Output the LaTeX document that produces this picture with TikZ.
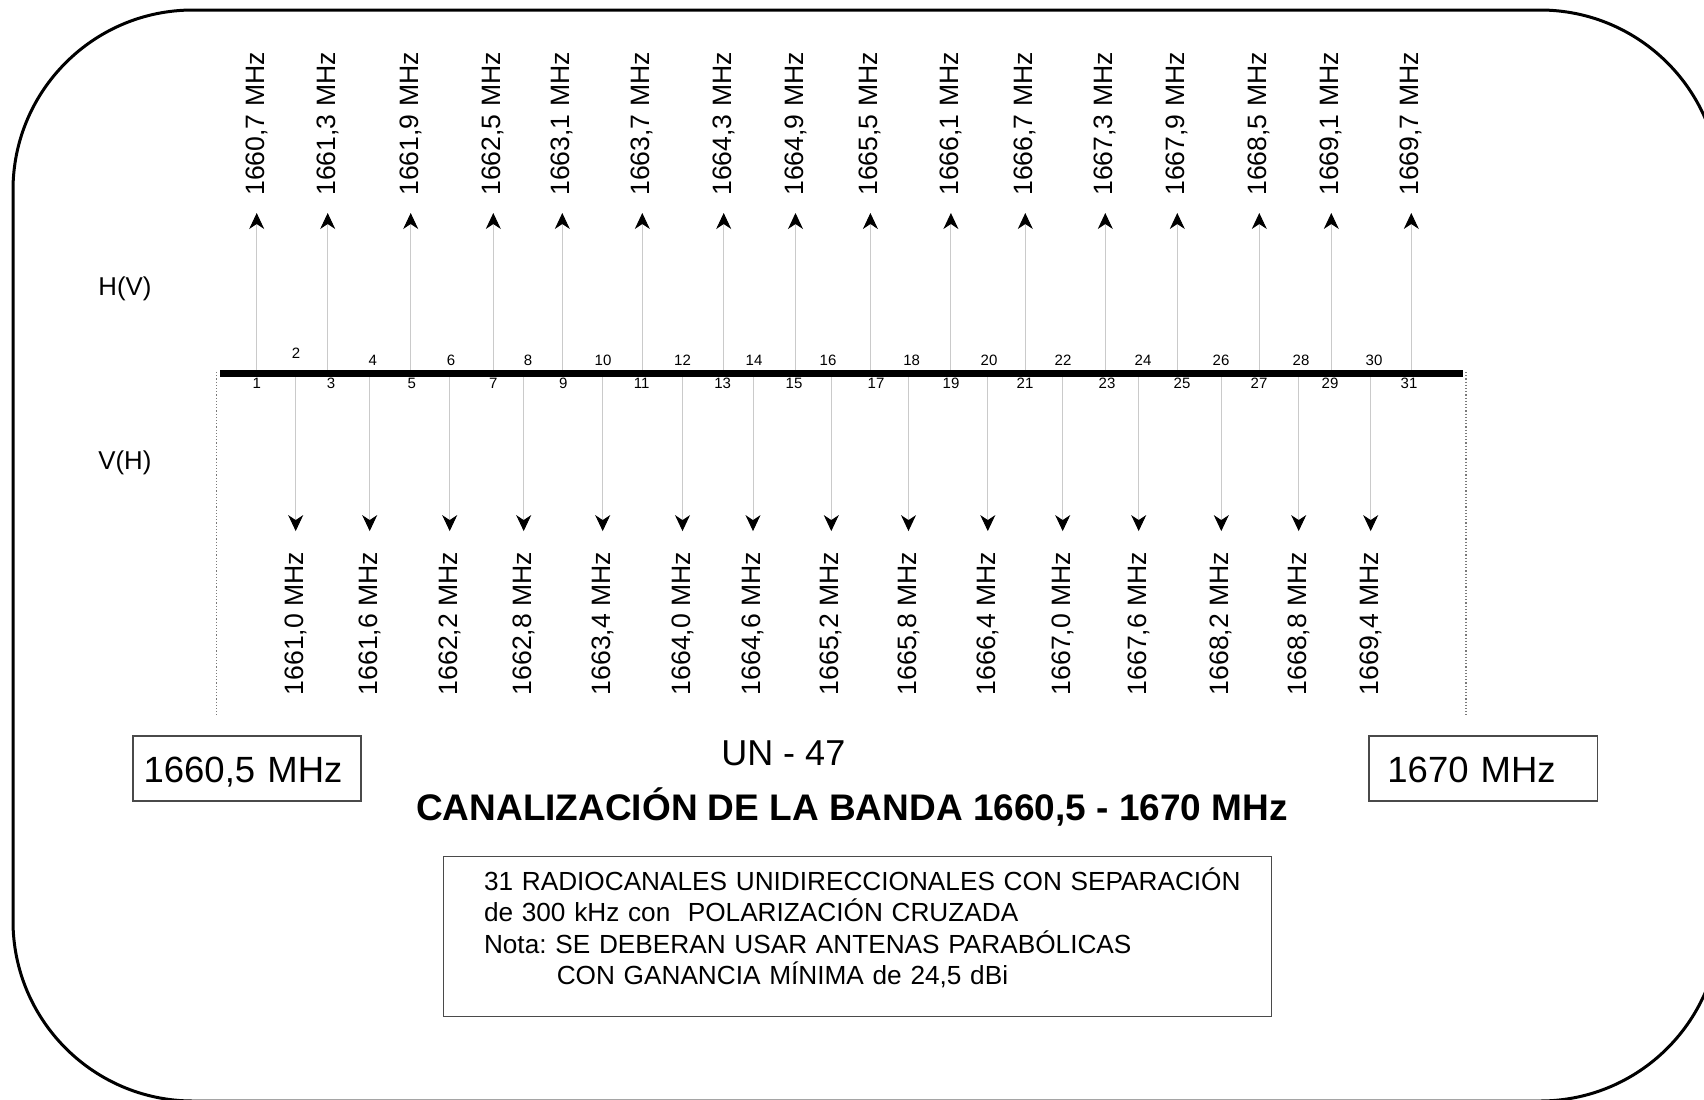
\documentclass[tikz,border=0pt]{standalone}
\usepackage{fontspec}
\setmainfont{Liberation Sans}
\usetikzlibrary{arrows.meta}
\definecolor{chgray}{HTML}{CACACA}
\definecolor{edgegray}{HTML}{7A7A7A}
\definecolor{boxgray}{HTML}{4A4A4A}
\frenchspacing

\begin{document}
\begin{tikzpicture}[
  x=0.5pt, y=-0.5pt,
  >={Stealth[length=8pt, width=7.5pt, inset=2.5pt, color=black]},
  chanup/.style={
    ->,
    draw=chgray,
    line width=0.5pt,
    shorten >=8.5pt
  },
  chandown/.style={
    ->,
    draw=chgray,
    line width=0.5pt,
    shorten >=10.2pt
  },
  frequp/.style={
    rotate=90,
    anchor=west,
    inner sep=0pt,
    font=\fontsize{13.3}{15}\selectfont
  },
  freqdown/.style={
    rotate=90,
    anchor=east,
    inner sep=0pt,
    font=\fontsize{13.3}{15}\selectfont
  },
  chnum/.style={
    inner sep=0pt,
    font=\fontsize{7.5}{9}\selectfont
  },
  bandline/.style={
    draw=black,
    line width=3.5pt
  },
  edgeline/.style={
    densely dotted,
    draw=edgegray,
    line width=0.6pt
  },
  freqbox/.style={
    draw=boxgray,
    line width=0.7pt,
    anchor=north west,
    align=left,
    inner ysep=0pt,
    text height=23pt,
    text depth=9.5pt,
    font=\fontsize{18.25}{22}\selectfont
  },
  polarlabel/.style={
    anchor=base west,
    inner sep=0pt,
    font=\fontsize{12.9}{15}\selectfont
  }
]

  \useasboundingbox (0,0) rectangle (1704,1099);

  % -------------------------------------------------------------
  % OUTER FRAME
  % -------------------------------------------------------------
  \draw[line width=1.5pt, rounded corners=90pt] (13,10) rectangle (1720,1101);

  % -------------------------------------------------------------
  % BAND EDGES
  % -------------------------------------------------------------
  \coordinate (barL) at (220,373);
  \coordinate (barR) at (1463,373);
  \coordinate (edgeLtop) at (216.7,372);
  \coordinate (edgeLbot) at (216.7,715);
  \coordinate (edgeRtop) at (1466,372);
  \coordinate (edgeRbot) at (1466,715);
  \draw[edgeline] (edgeLtop) -- (edgeLbot);
  \draw[edgeline] (edgeRtop) -- (edgeRbot);

  % -------------------------------------------------------------
  % ODD CHANNELS: H(V), ARROWS UP
  % -------------------------------------------------------------
  \foreach \ch/\x/\nx/\f in {
      1/256.7/256.7/{1660,7}, 3/327.7/331/{1661,3}, 5/410.7/411.7/{1661,9},
      7/493.3/493.3/{1662,5}, 9/562.3/563.3/{1663,1}, 11/642.3/641.7/{1663,7},
      13/723.7/722.7/{1664,3}, 15/795.5/794/{1664,9}, 17/870.4/876/{1665,5},
      19/950.9/951/{1666,1}, 21/1025.3/1025/{1666,7}, 23/1105.3/1107/{1667,3},
      25/1177.3/1182/{1667,9}, 27/1259.3/1259/{1668,5}, 29/1331.3/1330/{1669,1},
      31/1411.3/1409/{1669,7}}{
    \coordinate (b\ch) at (\x,373);
    \node[frequp] (f\ch) at (\x,196) {\f\ MHz};
    \draw[chanup] (b\ch) -- (f\ch.west);
    \node[chnum] (n\ch) at (\nx,383) {\ch};
  }

  % -------------------------------------------------------------
  % EVEN CHANNELS: V(H), ARROWS DOWN
  % -------------------------------------------------------------
  \foreach \ch/\x/\nx/\ny/\f in {
      2/295.7/296/353/{1661,0}, 4/369.7/372.7/360/{1661,6}, 6/449.7/451/360/{1662,2},
      8/523.7/528/360/{1662,8}, 10/602.7/603/360/{1663,4}, 12/682.5/682.5/360/{1664,0},
      14/753/754/360/{1664,6}, 16/831.3/828/360/{1665,2}, 18/908.5/911.7/360/{1665,8},
      20/987.8/989/360/{1666,4}, 22/1062.7/1063/360/{1667,0}, 24/1138.7/1143/360/{1667,6},
      26/1221.3/1221/360/{1668,2}, 28/1298.7/1301/360/{1668,8}, 30/1370.7/1374/360/{1669,4}}{
    \coordinate (b\ch) at (\x,373);
    \node[freqdown] (f\ch) at (\x,551.5) {\f\ MHz};
    \draw[chandown] (b\ch) -- (f\ch.east);
    \node[chnum] (n\ch) at (\nx,\ny) {\ch};
  }

  % Band line on top of the channel lines
  \draw[bandline] (barL) -- (barR);

  % Polarisation labels
  \node[polarlabel] (hv) at (98,295) {H(V)};
  \node[polarlabel] (vh) at (98,469) {V(H)};

  % -------------------------------------------------------------
  % BAND LIMITS AND TITLE
  % -------------------------------------------------------------
  \node[freqbox, inner xsep=5.3pt, text width=103.4pt] (flow) at (132.3,735.3) {1660,5 MHz};
  \node[freqbox, inner xsep=9.2pt, text width=95.95pt] (fhigh) at (1368.3,735.3) {1670 MHz};

  \node[anchor=base, inner sep=0pt, font=\fontsize{18}{22}\selectfont] (unid) at (783.3,765) {UN - 47};
  \node[anchor=base, inner sep=0pt, font=\fontsize{18.5}{22}\selectfont\bfseries] (title) at (852,820) {
    CANALIZACIÓN DE LA BANDA 1660,5 - 1670 MHz
  };

  % -------------------------------------------------------------
  % NOTE
  % -------------------------------------------------------------
  \node[draw=boxgray, line width=0.7pt, anchor=north west, align=left,
        inner xsep=20.3pt, inner ysep=0pt, text width=373.4pt,
        text height=16.75pt, text depth=63.25pt,
        font=\fontsize{13.1}{15.75}\selectfont] (note) at (442.7,856) {
    \mbox{31 RADIOCANALES UNIDIRECCIONALES CON SEPARACIÓN}\\
    de 300 kHz con\ \ POLARIZACIÓN CRUZADA\\
    Nota: SE DEBERAN USAR ANTENAS PARABÓLICAS\\
    \hspace*{36.4pt}CON GANANCIA MÍNIMA de 24,5 dBi
  };

\end{tikzpicture}
\end{document}
